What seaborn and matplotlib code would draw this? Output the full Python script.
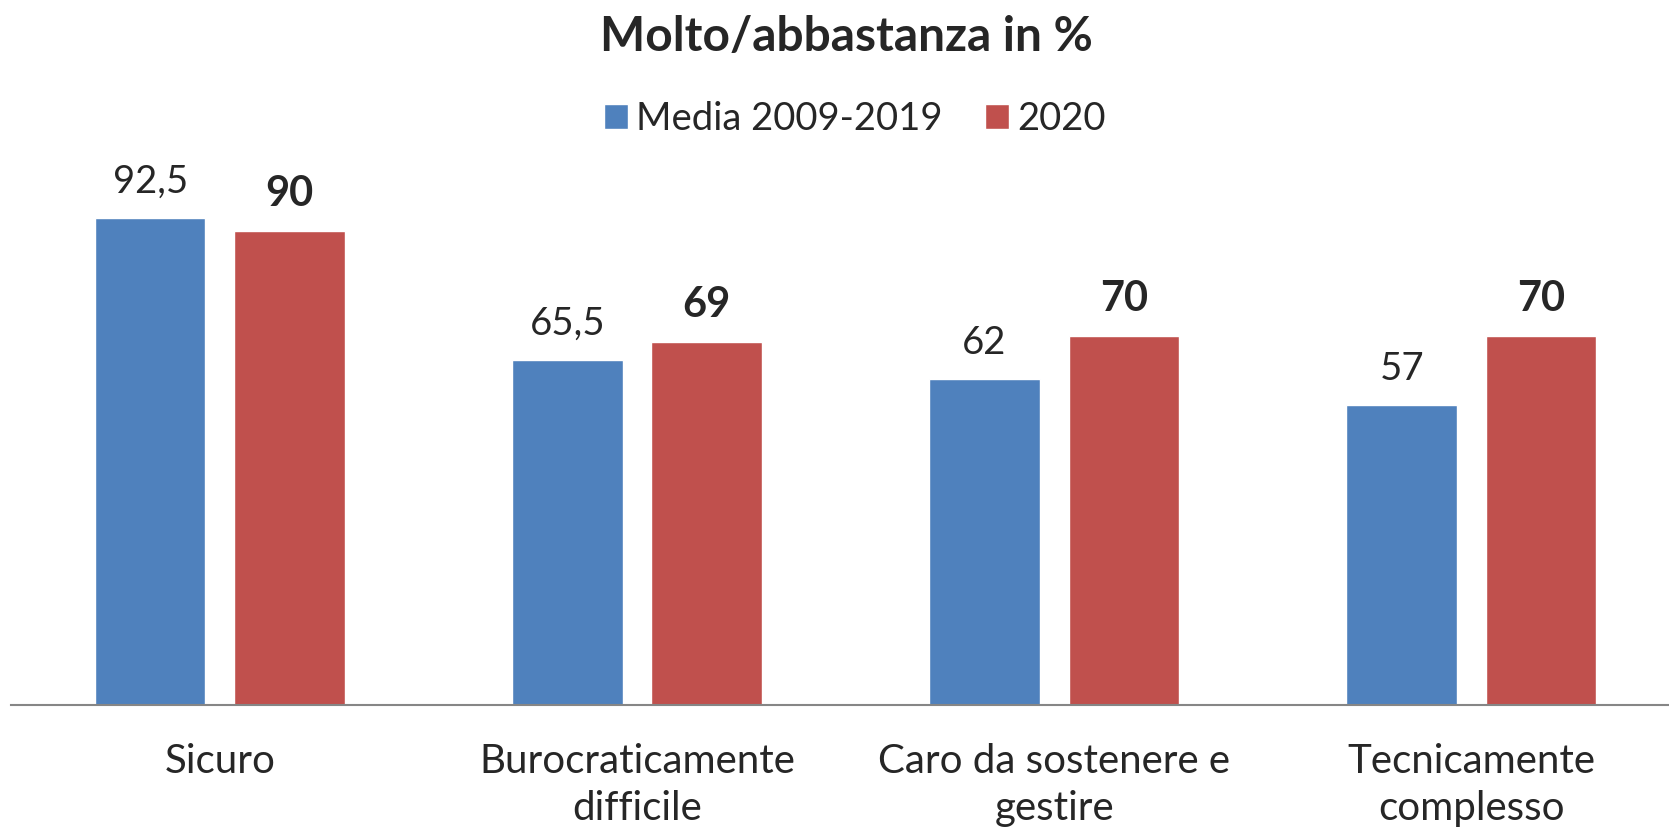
import pandas as pd
import matplotlib.pyplot as plt
import seaborn as sns

# Data
categories = ["Sicuro", "Burocraticamente\ndifficile", "Caro da sostenere e\ngestire", "Tecnicamente\ncomplesso"]
media_2009_2019 = [92.5, 65.5, 62, 57]
anno_2020 = [90, 69, 70, 70]
series_names = ["Media 2009-2019", "2020"]
label_media = ["92,5", "65,5", "62", "57"]
label_2020 = ["90", "69", "70", "70"]

colors = {"Media 2009-2019": "#4F81BD", "2020": "#C0504D"}

data = pd.DataFrame({
    "categoria": categories * 2,
    "valore": media_2009_2019 + anno_2020,
    "serie": [series_names[0]] * 4 + [series_names[1]] * 4,
})

sns.set_style("white")
plt.rcParams["font.family"] = ["Lato", "DejaVu Sans"]

fig = plt.figure(figsize=(16.69, 8.3), dpi=100)
ax = fig.add_axes([11.2 / 1669, 125 / 830, 1657.8 / 1669, 526.5 / 830])

sns.barplot(data=data, x="categoria", y="valore", hue="serie", palette=colors,
            width=0.668, gap=0.207, ax=ax, saturation=1)

ax.set_xlim(-0.5, -0.5 + 1657.8 / 417.2)
ax.set_ylim(0, 100)

# Value labels: regular for the average, bold for 2020
ax.bar_label(ax.containers[0], labels=label_media, padding=13, fontsize=27.5)
ax.bar_label(ax.containers[1], labels=label_2020, padding=13, fontsize=30, fontweight="bold")

ax.set_xlabel("")
ax.set_ylabel("")
ax.set_yticks([])
ax.tick_params(axis="x", length=0, labelsize=29, pad=27)
for lbl in ax.get_xticklabels():
    lbl.set_linespacing(1.36)
for side in ["top", "left", "right"]:
    ax.spines[side].set_visible(False)
ax.spines["bottom"].set_color("#868686")
ax.spines["bottom"].set_linewidth(1.5)

fig.suptitle("Molto/abbastanza in %", fontsize=34.5, fontweight="bold", x=0.5074, y=0.982, va="top")

sns.move_legend(ax, "center", bbox_to_anchor=(0.512, 0.857), bbox_transform=fig.transFigure,
                ncol=2, frameon=False, title=None, fontsize=27.5, handlelength=0.65,
                handleheight=0.65, handletextpad=0.2, columnspacing=1.1)

plt.savefig("out.png", dpi=100)
